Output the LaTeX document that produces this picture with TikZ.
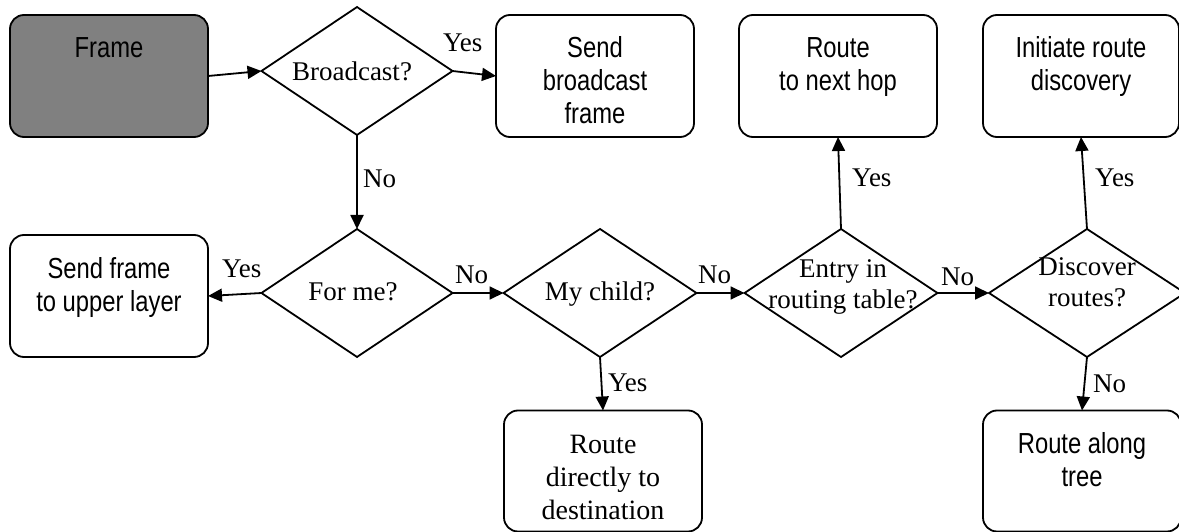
\documentclass[tikz,border=0pt]{standalone}
\usepackage{fontspec}
\setmainfont{Liberation Serif}
\newfontfamily\narrowsans[FakeStretch=0.82]{Liberation Sans}
\usetikzlibrary{shapes.geometric,arrows.meta}
\definecolor{framegray}{RGB}{128,128,128}
\newcommand\bxt[3]{\parbox[t][#2][t]{#1}{\centering\rule{0pt}{43pt}#3}}
\tikzset{
  box/.style={draw=black, line width=1.8pt, rounded corners=14pt, inner sep=0pt, outer sep=0pt,
              font=\narrowsans\fontsize{29pt}{33pt}\selectfont},
  sbox/.style={box, font=\fontsize{28pt}{33pt}\selectfont},
  dia/.style={draw=black, line width=1.8pt, diamond, inner sep=0pt, outer sep=0pt,
              minimum width=192pt, minimum height=128pt},
  dtext/.style={align=center, inner sep=0pt, anchor=base, font=\fontsize{27pt}{31pt}\selectfont},
  lab/.style={inner sep=0pt, anchor=base west, font=\fontsize{27pt}{31pt}\selectfont},
  conn/.style={line width=1.8pt, -{Triangle[length=14pt,width=13pt]}}
}
\begin{document}
\begin{tikzpicture}[x=1pt,y=-1pt]
\useasboundingbox (0,0) rectangle (1179,532);
% boxes
\node[box, fill=framegray] (frame) at (109,76) {\bxt{198pt}{122pt}{Frame}};
\node[box] (sendb) at (595,76) {\bxt{198pt}{122pt}{Send\\broadcast\\frame}};
\node[box] (route) at (838,76) {\bxt{198pt}{122pt}{Route\\to next hop}};
\node[box] (init) at (1081,76) {\bxt{196pt}{122pt}{Initiate route\\discovery}};
\node[box] (sendup) at (109,296) {\bxt{198pt}{122pt}{Send frame\\to upper layer}};
\node[sbox] (direct) at (603,471) {\bxt{198pt}{121pt}{Route\\directly to\\destination}};
\node[box] (along) at (1082,471) {\bxt{198pt}{121pt}{Route along\\tree}};
% diamonds
\node[dia, minimum width=191pt] (bc) at (357,71) {};
\node[dia, minimum width=191pt] (forme) at (357,293) {};
\node[dia, minimum width=193pt] (child) at (600,293) {};
\node[dia, minimum width=193pt] (entry) at (841,293) {};
\node[dia, minimum width=196pt] (disc) at (1087,293) {};
% diamond texts
\node[dtext] (bct) at (352,81) {Broadcast?};
\node[dtext] (formet) at (353,300) {For me?};
\node[dtext] (childt) at (600,300) {My child?};
\node[dtext] (entryt) at (843,308) {Entry in\\routing table?};
\node[dtext] (disct) at (1087,306) {Discover\\routes?};
% connectors
\draw[conn] (frame.east) -- (bc.west);
\draw[conn] (bc.east) -- (sendb.west);
\draw[conn] (bc.south) -- (forme.north);
\draw[conn] (forme.west) -- (sendup.east);
\draw[conn] (forme.east) -- (child.west);
\draw[conn] (child.east) -- (entry.west);
\draw[conn] (entry.east) -- (disc.west);
\draw[conn] (entry.north) -- (route.south);
\draw[conn] (disc.north) -- (init.south);
\draw[conn] (disc.south) -- (along.north);
\draw[conn] (child.south) -- (direct.north);
% labels
\node[lab] (l1) at (443,52) {Yes};
\node[lab] (l2) at (363,188) {No};
\node[lab] (l3) at (222,277) {Yes};
\node[lab] (l4) at (455,283) {No};
\node[lab] (l5) at (698,283) {No};
\node[lab] (l6) at (941,285) {No};
\node[lab] (l7) at (852,187) {Yes};
\node[lab] (l8) at (1095,187) {Yes};
\node[lab] (l9) at (608,391) {Yes};
\node[lab] (l10) at (1093,392) {No};
\end{tikzpicture}
\end{document}
